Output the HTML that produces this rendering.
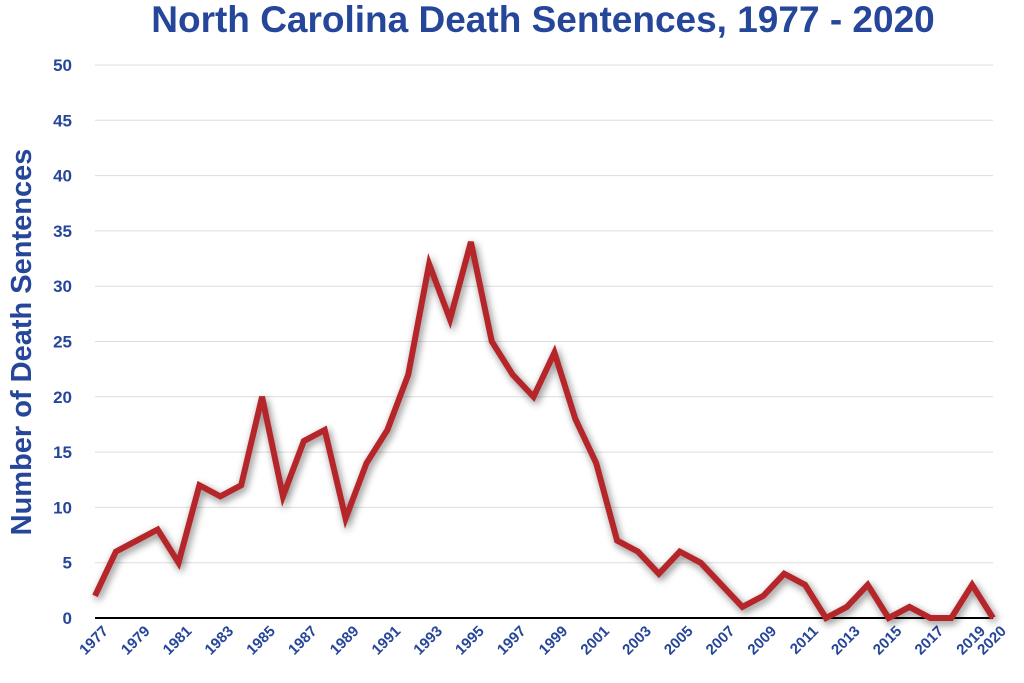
<!DOCTYPE html>
<html><head><meta charset="utf-8">
<style>
body{margin:0;background:#fff;width:1024px;height:678px;overflow:hidden}
svg text{font-family:"Liberation Sans",sans-serif;font-weight:bold;fill:#26469a}
</style></head>
<body>
<svg id="chart" width="1024" height="678" xmlns="http://www.w3.org/2000/svg">
<defs><filter id="sh" x="-10%" y="-10%" width="120%" height="120%"><feGaussianBlur in="SourceAlpha" stdDeviation="4"/><feOffset dx="2" dy="3"/><feComponentTransfer><feFuncA type="linear" slope="0.5"/></feComponentTransfer><feMerge><feMergeNode/><feMergeNode in="SourceGraphic"/></feMerge></filter></defs>
<text x="543" y="32" text-anchor="middle" font-size="37">North Carolina Death Sentences, 1977 - 2020</text>
<text transform="translate(31,342) rotate(-90)" text-anchor="middle" font-size="29">Number of Death Sentences</text>
<g id="grid"></g><g id="yticks"></g><g id="xticks"></g><g id="series"></g>
</svg>
<script>
const years=[1977,1978,1979,1980,1981,1982,1983,1984,1985,1986,1987,1988,1989,1990,1991,1992,1993,1994,1995,1996,1997,1998,1999,2000,2001,2002,2003,2004,2005,2006,2007,2008,2009,2010,2011,2012,2013,2014,2015,2016,2017,2018,2019,2020];
const sentences=[2,6,7,8,5,12,11,12,20,11,16,17,9,14,17,22,32,27,34,25,22,20,24,18,14,7,6,4,6,5,3,1,2,4,3,0,1,3,0,1,0,0,3,0];
const yTicks=[0,5,10,15,20,25,30,35,40,45,50];
const xLabels=[1977,1979,1981,1983,1985,1987,1989,1991,1993,1995,1997,1999,2001,2003,2005,2007,2009,2011,2013,2015,2017,2019,2020];
const NS="http://www.w3.org/2000/svg";
const x=v=>95+(v-1977)*(993-95)/43;
const y=v=>618-v*(618-65)/50;
function mk(t,a,p){const e=document.createElementNS(NS,t);for(const k in a)e.setAttribute(k,a[k]);p.appendChild(e);return e;}
const grid=document.getElementById('grid'),yt=document.getElementById('yticks'),xt=document.getElementById('xticks'),se=document.getElementById('series');
yTicks.forEach(v=>{
 const l=mk('line',{x1:95,x2:993,y1:y(v),y2:y(v),stroke:v===0?'#000':'#ddd','stroke-width':v===0?2:1},grid);
 
 
 const t=mk('text',{x:72,y:y(v)+6,'text-anchor':'end','font-size':17},yt);
 t.textContent=v;
 
 
});
xLabels.forEach(v=>{
 const t=mk('text',{transform:`translate(${x(v)+14},${632}) rotate(-45)`,'text-anchor':'end','font-size':15},xt);
 t.textContent=v;
 
 
});
const pts=years.map((yr,i)=>x(yr)+','+y(sentences[i])).join(' ');
const pl=mk('polyline',{points:pts,fill:'none',stroke:'#b5252c','stroke-width':6,'stroke-linejoin':'miter','stroke-miterlimit':4,filter:'url(#sh)'},se);


</script>
</body></html>
